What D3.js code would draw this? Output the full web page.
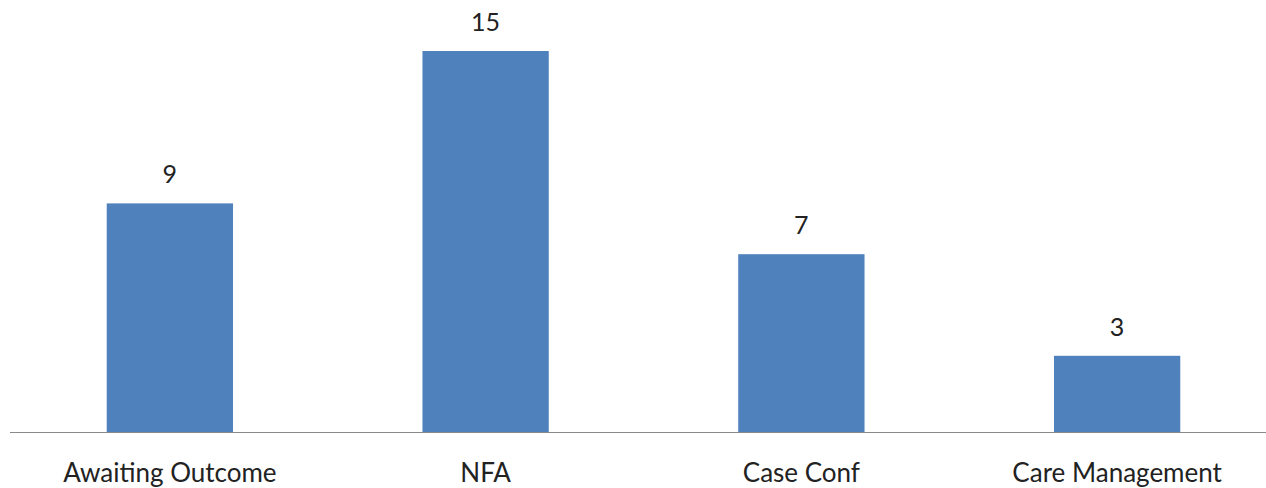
<!DOCTYPE html>
<html>
<head>
<meta charset="utf-8">
<script src="https://cdnjs.cloudflare.com/ajax/libs/d3/7.8.5/d3.min.js"></script>
<style>
  body { margin: 0; background: #fff; }
  text { font-family: Lato, "Open Sans", sans-serif; fill: #222; }
</style>
</head>
<body>
<script>
var categories = ["Awaiting Outcome", "NFA", "Case Conf", "Care Management"];
var values = [9, 15, 7, 3];

var width = 1266, height = 488;

var svg = d3.select("body")
	.append("svg")
	.attr("width", width)
	.attr("height", height);

var x = d3.scaleBand()
	.domain(categories)
	.range([12, 1275])
	.paddingInner(0.6)
	.paddingOuter(0.3);

var y = d3.scaleLinear()
	.domain([0, 15])
	.range([432, 51]);

svg.selectAll("rect.bar")
	.data(values)
	.enter()
	.append("rect")
	.attr("class", "bar")
	.attr("x", function(d, i) { return x(categories[i]); })
	.attr("y", function(d) { return y(d); })
	.attr("width", x.bandwidth())
	.attr("height", function(d) { return y(0) - y(d); })
	.attr("fill", "#4F81BD");

// value labels
svg.selectAll("text.val")
	.data(values)
	.enter()
	.append("text")
	.attr("class", "val")
	.attr("x", function(d, i) { return x(categories[i]) + x.bandwidth() / 2; })
	.attr("y", function(d) { return y(d) - 20; })
	.attr("text-anchor", "middle")
	.style("font-size", "25px")
	.text(function(d) { return d; });

// baseline
svg.append("line")
	.attr("x1", 10)
	.attr("x2", width)
	.attr("y1", y(0) + 0.5)
	.attr("y2", y(0) + 0.5)
	.attr("stroke", "#8a8a8a")
	.attr("stroke-width", 1.2);

// category labels
svg.selectAll("text.cat")
	.data(categories)
	.enter()
	.append("text")
	.attr("class", "cat")
	.attr("x", function(d) { return x(d) + x.bandwidth() / 2; })
	.attr("y", 482)
	.attr("text-anchor", "middle")
	.style("font-size", "26px")
	.text(function(d) { return d; });
</script>
</body>
</html>
